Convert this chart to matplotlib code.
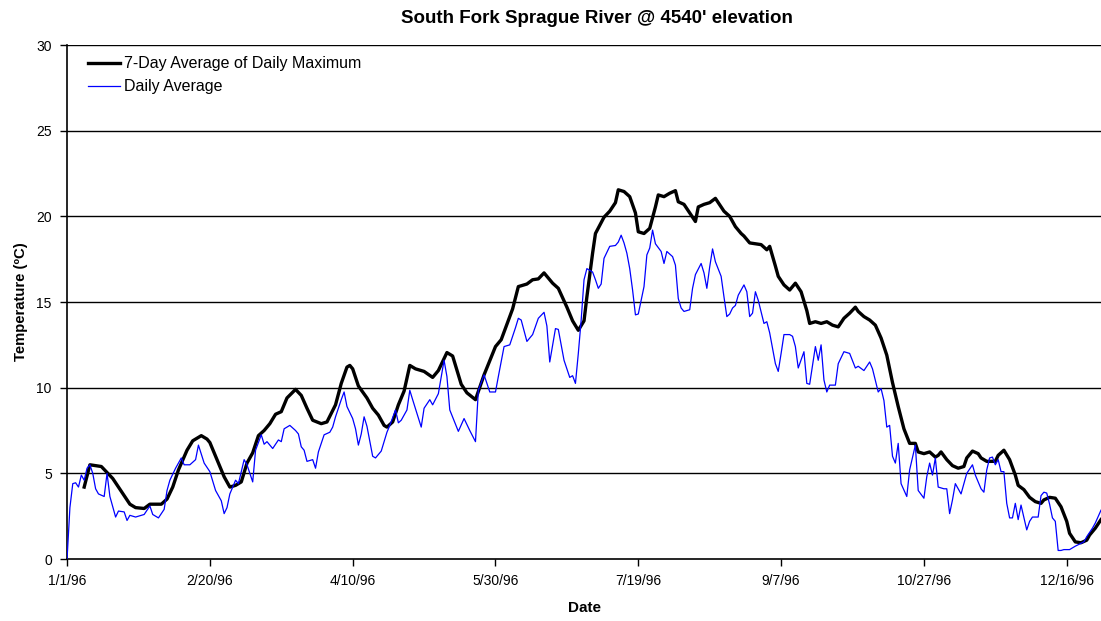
import matplotlib
matplotlib.use("Agg")
import matplotlib.pyplot as plt

plt.rcParams['font.family'] = ['Liberation Sans', 'DejaVu Sans']

# day of year (0 = 1/1/96) and temperature
max7_days = [6, 8, 10, 12, 14, 16, 18, 20, 22, 24, 27, 29, 33, 35, 37, 39, 42, 44, 47, 49,
             50, 52, 55, 57, 59, 61, 63, 65, 67, 69, 71, 73, 75, 77, 80, 82, 84, 86, 89, 91,
             94, 96, 98, 99, 100, 102, 105, 107, 109, 111, 112, 114, 116, 118, 120, 122, 125, 128, 130, 133,
             135, 138, 140, 143, 146, 150, 152, 154, 156, 158, 161, 163, 165, 167, 170, 172, 175, 177, 179, 181,
             182, 184, 185, 188, 190, 192, 193, 195, 197, 199, 200, 202, 204, 206, 207, 209, 211, 213, 214, 216,
             218, 220, 221, 223, 225, 227, 228, 230, 232, 234, 236, 237, 239, 241, 243, 245, 246, 248, 249, 251,
             253, 255, 257, 259, 260, 262, 264, 266, 268, 270, 272, 274, 276, 277, 279, 281, 283, 285, 287, 289,
             291, 293, 295, 297, 298, 300, 302, 304, 305, 306, 308, 310, 312, 314, 315, 317, 319, 320, 322, 325,
             326, 328, 330, 332, 333, 335, 337, 339, 341, 342, 344, 346, 348, 350, 351, 353, 355, 357, 358, 360,
             362]
max7_vals = [4.2, 5.5, 5.45, 5.4, 5.05, 4.7, 4.2, 3.7, 3.2, 3.0, 2.95, 3.2, 3.2, 3.5, 4.2, 5.2, 6.35, 6.9, 7.2, 7.0,
             6.8, 6.0, 4.8, 4.2, 4.3, 4.5, 5.6, 6.2, 7.2, 7.5, 7.9, 8.45, 8.6, 9.4, 9.9, 9.55, 8.8, 8.1, 7.9, 8.0,
             9.0, 10.25, 11.2, 11.3, 11.1, 10.1, 9.4, 8.8, 8.4, 7.8, 7.7, 8.0, 9.0, 9.8, 11.3, 11.1, 10.95, 10.6, 11.0, 12.05,
             11.85, 10.2, 9.7, 9.3, 10.75, 12.4, 12.8, 13.7, 14.6, 15.9, 16.05, 16.3, 16.35, 16.7, 16.1, 15.8, 14.7, 13.9, 13.35, 13.9,
             15.3, 17.85, 19.0, 19.95, 20.3, 20.8, 21.55, 21.45, 21.15, 20.2, 19.1, 19.0, 19.3, 20.55, 21.25, 21.15, 21.35, 21.5, 20.85, 20.7,
             20.2, 19.7, 20.55, 20.7, 20.8, 21.05, 20.8, 20.3, 20.0, 19.4, 19.0, 18.85, 18.45, 18.4, 18.35, 18.05, 18.25, 17.1, 16.5, 16.0,
             15.7, 16.1, 15.6, 14.5, 13.75, 13.85, 13.75, 13.85, 13.65, 13.55, 14.05, 14.35, 14.7, 14.45, 14.15, 13.95, 13.65, 12.9, 11.9, 10.3,
             8.9, 7.6, 6.75, 6.75, 6.25, 6.15, 6.25, 5.95, 6.05, 6.25, 5.8, 5.45, 5.3, 5.4, 5.9, 6.3, 6.15, 5.9, 5.7, 5.7,
             6.05, 6.35, 5.8, 4.9, 4.3, 4.05, 3.6, 3.35, 3.25, 3.45, 3.6, 3.55, 3.05, 2.2, 1.5, 1.0, 0.95, 1.1, 1.4, 1.8,
             2.3]

avg_days = [0, 1, 2, 3, 4, 5, 6, 7, 8, 9, 10, 11, 13, 14, 15, 17, 18, 20, 21, 22,
            24, 27, 29, 30, 32, 34, 35, 36, 38, 40, 41, 43, 45, 46, 48, 50, 52, 54, 55, 56,
            57, 58, 59, 60, 62, 63, 65, 66, 68, 69, 70, 72, 74, 75, 76, 78, 80, 81, 82, 83,
            84, 86, 87, 88, 90, 92, 93, 94, 96, 97, 98, 100, 101, 102, 103, 104, 105, 107, 108, 110,
            112, 113, 115, 116, 117, 119, 120, 121, 124, 125, 127, 128, 130, 132, 133, 134, 137, 139, 141, 143,
            144, 146, 148, 150, 151, 153, 155, 157, 158, 159, 161, 163, 165, 167, 168, 169, 171, 172, 174, 176,
            177, 178, 179, 180, 181, 182, 184, 185, 186, 187, 188, 190, 192, 193, 194, 195, 196, 197, 198, 199,
            200, 202, 203, 204, 205, 206, 208, 209, 210, 212, 213, 214, 215, 216, 218, 219, 220, 222, 223, 224,
            225, 226, 227, 229, 230, 231, 232, 233, 234, 235, 237, 238, 239, 240, 241, 242, 244, 245, 246, 248,
            249, 250, 251, 253, 254, 255, 256, 258, 259, 260, 262, 263, 264, 265, 266, 267, 269, 270, 272, 274,
            276, 277, 279, 281, 282, 284, 285, 286, 287, 288, 289, 290, 291, 292, 294, 295, 297, 298, 300, 301,
            302, 303, 304, 305, 307, 308, 309, 310, 311, 313, 315, 317, 318, 320, 321, 322, 323, 324, 325, 326,
            327, 328, 329, 330, 331, 332, 333, 334, 336, 337, 338, 340, 341, 342, 343, 344, 345, 346, 347, 348,
            349, 351, 353, 356, 357, 359, 360, 362]
avg_vals = [0.0, 3.0, 4.4, 4.45, 4.2, 4.9, 4.6, 5.3, 5.5, 5.0, 4.1, 3.8, 3.65, 5.0, 3.65, 2.45, 2.8, 2.75, 2.25, 2.55,
            2.45, 2.6, 3.1, 2.6, 2.4, 2.9, 4.0, 4.6, 5.3, 5.9, 5.5, 5.5, 5.8, 6.65, 5.6, 5.1, 4.0, 3.4, 2.65, 3.0,
            3.8, 4.2, 4.6, 4.4, 5.8, 5.5, 4.5, 6.35, 7.25, 6.7, 6.85, 6.45, 6.95, 6.85, 7.6, 7.8, 7.5, 7.3, 6.55, 6.35,
            5.7, 5.8, 5.3, 6.25, 7.25, 7.4, 7.7, 8.3, 9.3, 9.75, 8.9, 8.2, 7.6, 6.65, 7.3, 8.3, 7.75, 6.0, 5.9, 6.3,
            7.4, 7.8, 8.7, 7.95, 8.1, 8.7, 9.85, 9.3, 7.7, 8.8, 9.3, 9.0, 9.65, 11.6, 10.65, 8.7, 7.45, 8.2, 7.5, 6.85,
            9.85, 10.75, 9.75, 9.75, 10.65, 12.4, 12.5, 13.5, 14.05, 13.95, 12.7, 13.1, 14.05, 14.4, 13.6, 11.5, 13.45, 13.4, 11.6, 10.6,
            10.7, 10.25, 12.0, 13.95, 16.3, 16.95, 16.75, 16.3, 15.8, 16.05, 17.55, 18.25, 18.3, 18.5, 18.9, 18.45, 17.85, 16.95, 15.7, 14.25,
            14.3, 15.9, 17.75, 18.15, 19.2, 18.4, 17.95, 17.25, 17.95, 17.65, 17.15, 15.2, 14.65, 14.45, 14.55, 15.8, 16.6, 17.25, 16.7, 15.8,
            17.05, 18.1, 17.35, 16.5, 15.3, 14.15, 14.3, 14.65, 14.8, 15.4, 16.0, 15.6, 14.15, 14.35, 15.6, 15.1, 13.75, 13.85, 13.2, 11.4,
            10.95, 12.0, 13.1, 13.1, 13.0, 12.4, 11.15, 12.1, 10.25, 10.2, 12.4, 11.6, 12.5, 10.45, 9.75, 10.15, 10.15, 11.4, 12.1, 12.0,
            11.15, 11.25, 11.0, 11.5, 11.1, 9.75, 9.95, 9.25, 7.7, 7.8, 6.0, 5.6, 6.75, 4.4, 3.65, 5.2, 6.65, 4.0, 3.55, 4.8,
            5.6, 4.9, 5.9, 4.2, 4.1, 4.1, 2.65, 3.45, 4.4, 3.8, 5.0, 5.5, 4.9, 4.1, 3.9, 5.2, 5.9, 5.95, 5.5, 5.8,
            5.1, 5.1, 3.25, 2.4, 2.4, 3.25, 2.3, 3.15, 1.7, 2.2, 2.45, 2.45, 3.7, 3.9, 3.85, 3.2, 2.4, 2.2, 0.5, 0.5,
            0.55, 0.55, 0.75, 1.0, 1.3, 1.8, 2.1, 2.85]

tick_days = [0, 50, 100, 150, 200, 250, 300, 350]
tick_labels = ['1/1/96', '2/20/96', '4/10/96', '5/30/96', '7/19/96', '9/7/96', '10/27/96', '12/16/96']

fig = plt.figure(figsize=(11.01, 6.21), dpi=100)
ax = fig.add_axes([0.0609, 0.0998, 0.9391, 0.8277])

for yv in range(5, 31, 5):
    ax.axhline(yv, color='black', lw=1.0, zorder=1)

ax.plot(max7_days, max7_vals, color='black', lw=2.4, label='7-Day Average of Daily Maximum', zorder=3)
ax.plot(avg_days, avg_vals, color='#0000FF', lw=0.9, label='Daily Average', zorder=4)

ax.set_xlim(0, 362)
ax.set_ylim(0, 30)
ax.set_xticks(tick_days)
ax.set_xticklabels(tick_labels)
ax.set_yticks(range(0, 31, 5))
ax.tick_params(axis='both', labelsize=10, length=5, width=1, direction='out', pad=6)

for s in ['top', 'right']:
    ax.spines[s].set_visible(False)
for s in ['left', 'bottom']:
    ax.spines[s].set_linewidth(1.2)

# title sits a little right of the plot centre, as in the original
fig.text(0.542, 0.971, "South Fork Sprague River @ 4540' elevation",
         fontsize=13.5, fontweight='bold', ha='center', va='center')
ax.set_ylabel('Temperature (\u00baC)', fontsize=10.7, fontweight='bold', labelpad=6)
ax.set_xlabel('Date', fontsize=11, fontweight='bold', labelpad=9)

ax.legend(loc='upper left', frameon=False, fontsize=11.5, handlelength=2.05,
          handletextpad=0.25, borderaxespad=0.3, labelspacing=0.5, bbox_to_anchor=(0.009, 1.0))

fig.savefig('out.png', dpi=100)
